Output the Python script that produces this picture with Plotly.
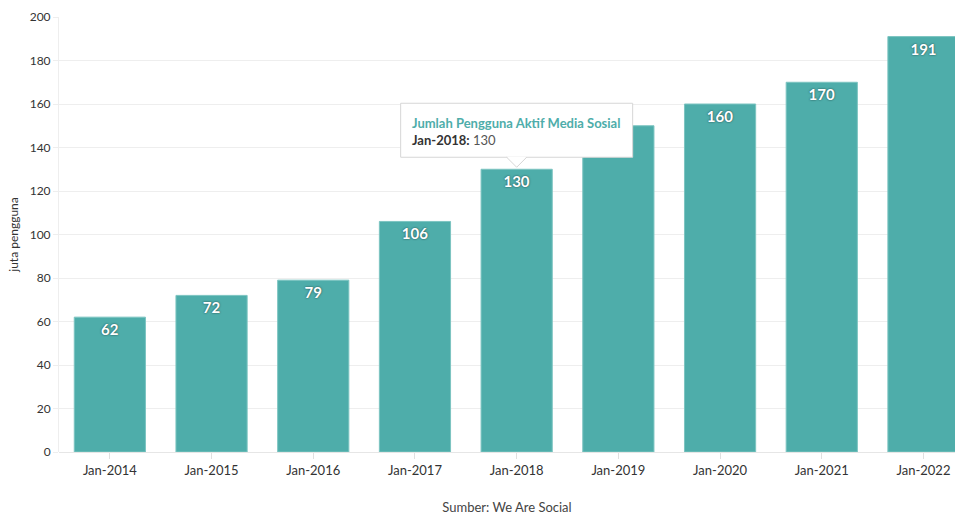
import plotly.graph_objects as go

categories = ["Jan-2014", "Jan-2015", "Jan-2016", "Jan-2017", "Jan-2018",
              "Jan-2019", "Jan-2020", "Jan-2021", "Jan-2022"]
values = [62, 72, 79, 106, 130, 150, 160, 170, 191]
series_name = "Jumlah Pengguna Aktif Media Sosial"
y_ticks = [0, 20, 40, 60, 80, 100, 120, 140, 160, 180, 200]
tooltip_index = 4

BAR = "#4eadaa"
FONT = "Lato, 'Open Sans', sans-serif"

fig = go.Figure()
fig.add_trace(go.Bar(
    x=list(range(len(categories))),
    y=values,
    name=series_name,
    width=0.7,
    marker=dict(color=BAR, line=dict(color="#7cc4c1", width=1)),
    text=[str(v) for v in values],
    textposition="inside",
    insidetextanchor="end",
    textangle=0,
    constraintext="none",
    textfont=dict(family=FONT, size=15, color="white", weight="bold",
                  shadow="0px 0px 2px #1f3f3e"),
    cliponaxis=False,
    hoverinfo="skip",
))

# tooltip (box + pointer anchored to the hovered bar, sizes in pixels)
tx = tooltip_index
ty = values[tooltip_index]
common = dict(xref="x", yref="y", xsizemode="pixel", ysizemode="pixel",
              xanchor=tx, yanchor=ty, layer="above")
fig.add_shape(type="rect", x0=-116, x1=116, y0=12, y1=66,
              fillcolor="white", line=dict(color="#d6d6d6", width=1), **common)
fig.add_shape(type="path", path="M-10,12.5 L0,2 L10,12.5 Z",
              fillcolor="white", line=dict(width=0), **common)
fig.add_shape(type="path", path="M-10,12 L0,2 L10,12",
              line=dict(color="#d6d6d6", width=1), **common)
fig.add_annotation(
    x=tx, y=ty, xref="x", yref="y",
    text=(f"<b><span style='color:{BAR}'>{series_name}</span></b><br>"
          f"<b>{categories[tx]}:</b> <span style='color:#555555'>{ty}</span>"),
    showarrow=False, xanchor="left", yanchor="top", xshift=-106, yshift=55,
    align="left", borderpad=0, font=dict(family=FONT, size=13, color="#333333"),
)

fig.update_layout(
    width=955, height=515,
    margin=dict(l=59, r=0, t=17, b=63),
    plot_bgcolor="white", paper_bgcolor="white",
    showlegend=False,
    font=dict(family=FONT, color="#333333"),
    xaxis=dict(
        tickmode="array", tickvals=list(range(len(categories))), ticktext=categories,
        range=[-0.5, 8.31], showgrid=False, zeroline=False,
        ticks="outside", ticklen=6, tickcolor="#e0e0e0",
        tickfont=dict(size=13, color="#333333", family=FONT),
        title=dict(text="Sumber: We Are Social", standoff=28,
                   font=dict(size=13, color="#444444", family=FONT)),
        showline=False,
    ),
    yaxis=dict(
        range=[0, 200], tickvals=y_ticks, showgrid=True, gridcolor="#eeeeee",
        zeroline=True, zerolinecolor="#e6e6e6", zerolinewidth=1,
        ticks="outside", ticklen=5, tickcolor="#eeeeee",
        showline=True, linecolor="#eeeeee",
        tickfont=dict(size=12, color="#333333", family=FONT),
        title=dict(text="juta pengguna", standoff=8,
                   font=dict(size=12, color="#333333", family=FONT)),
    ),
)

fig.write_html("out.html")
